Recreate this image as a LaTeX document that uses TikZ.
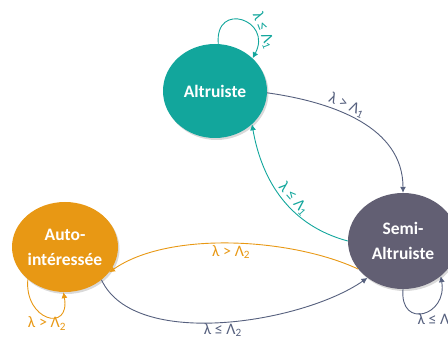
\documentclass[tikz,border=0pt]{standalone}
\usepackage{fontspec}
\setmainfont{Carlito}
\usetikzlibrary{arrows.meta,shapes.geometric,shadows}
\definecolor{altcol}{RGB}{18,166,156}
\definecolor{autocol}{RGB}{232,152,20}
\definecolor{semicol}{RGB}{98,95,115}
\definecolor{slate}{RGB}{86,96,126}
\begin{document}
\begin{tikzpicture}
            [x=1pt, y=1pt,
            state/.style={ellipse, inner sep=0pt, text=white, align=center,
                font=\bfseries\fontsize{17.5}{25}\selectfont,
                drop shadow={shadow xshift=1.5pt, shadow yshift=-2pt, opacity=0.3}},
            edge/.style={line width=0.9pt, -{Latex[length=6pt, width=6pt]}},
            lbl/.style={font=\fontsize{16}{18}\selectfont, inner sep=1.5pt}]

            \useasboundingbox (0,0) rectangle (448,-339);

            \node[state, fill=altcol, minimum width=104pt, minimum height=94pt] (alt) at (215,-91) {Altruiste};
            \node[state, fill=autocol, minimum width=106pt, minimum height=90pt] (auto) at (65,-247) {Auto-\\intéressée};
            \node[state, fill=semicol, minimum width=110pt, minimum height=96pt] (semi) at (403,-241) {Semi-\\Altruiste};

            % boucles
            \draw[edge, altcol] (alt.86) to[out=95, in=62, looseness=3]
                node[lbl, pos=0.75, sloped, above, text=altcol] {λ ≤ Λ\textsubscript{1}} (alt.41);
            \draw[edge, autocol] (auto.-139) to[out=-95, in=-80, looseness=2.8]
                node[lbl, below, inner sep=0pt, text=autocol] {λ > Λ\textsubscript{2}} (auto.-92);
            \draw[edge, slate] (semi.-90) to[out=-95, in=-80, looseness=2.6]
                node[lbl, below right, xshift=-6pt, inner sep=0pt, text=slate] {λ ≤ Λ\textsubscript{2}} (semi.-43);

            % transitions
            \draw[edge, slate] (alt.-2) to[out=-8, in=90, looseness=1]
                node[lbl, pos=0.4, sloped, above, text=slate] {λ > Λ\textsubscript{1}} (semi.north);
            \draw[edge, altcol] (semi.west) to[out=165, in=-80, looseness=1]
                node[lbl, pos=0.45, sloped, above, text=altcol] {λ ≤ Λ\textsubscript{1}} (alt.-42);
            \draw[edge, autocol] (semi.212) to[out=155, in=35, looseness=0.75]
                node[lbl, pos=0.5, below, text=autocol] {λ > Λ\textsubscript{2}} (auto.-30);
            \draw[edge, slate] (auto.-42) to[out=-65, in=-145, looseness=0.75]
                node[lbl, pos=0.5, below, inner sep=0.5pt, text=slate] {λ ≤ Λ\textsubscript{2}} (semi.226);

        \end{tikzpicture}
\end{document}
